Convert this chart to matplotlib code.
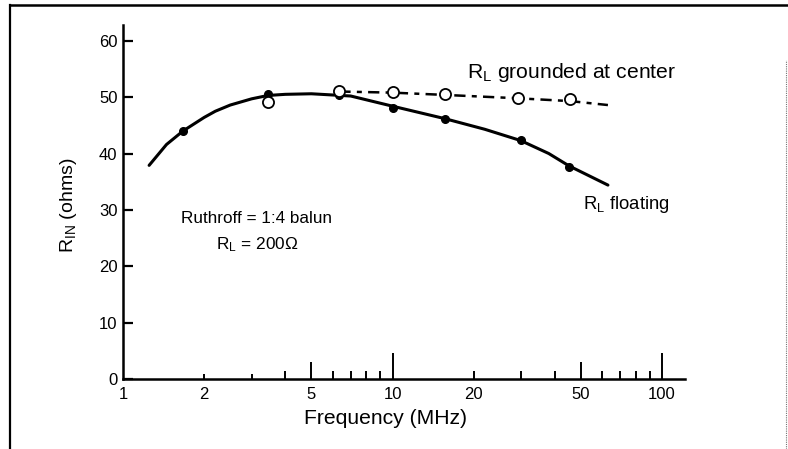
import matplotlib
matplotlib.use("Agg")
import matplotlib.pyplot as plt
from matplotlib.lines import Line2D
from matplotlib.ticker import FixedLocator, FuncFormatter, NullLocator

plt.rcParams["font.family"] = ["Liberation Sans", "DejaVu Sans"]
plt.rcParams["mathtext.fontset"] = "custom"
plt.rcParams["mathtext.rm"] = "Liberation Sans"
plt.rcParams["mathtext.default"] = "regular"

# R_L floating: measured points and the drawn curve through them
float_f = [1.67, 3.45, 6.35, 10, 15.6, 29.9, 45.2]
float_r = [44.0, 50.5, 50.4, 48.0, 46.1, 42.4, 37.6]
float_curve_f = [1.25, 1.45, 1.67, 2.0, 2.2, 2.5, 3.0, 3.45, 4.0, 5.0, 7.0, 10,
                 15.6, 22, 29.9, 38, 45.2, 63]
float_curve_r = [37.9, 41.6, 44.0, 46.4, 47.5, 48.6, 49.7, 50.3, 50.5, 50.6, 50.2, 48.4,
                 46.2, 44.3, 42.3, 40.0, 37.8, 34.4]

# R_L grounded at center: measured points and the dashed trend
ground_f = [3.45, 6.35, 10, 15.6, 29.2, 45.6]
ground_r = [49.1, 51.1, 50.9, 50.5, 49.8, 49.6]
ground_curve_f = [6.35, 10, 15.6, 29.2, 45.6, 63]
ground_curve_r = [51.0, 50.8, 50.4, 49.8, 49.3, 48.6]

x_ticks = [1, 2, 3, 4, 5, 6, 7, 8, 9, 10, 20, 30, 40, 50, 60, 70, 80, 90, 100]
x_labels = [1, 2, 5, 10, 20, 50, 100]
y_ticks = [0, 10, 20, 30, 40, 50, 60]

fig = plt.figure(figsize=(7.88, 4.49), dpi=100)
ax = fig.add_axes([123 / 788, 1 - 379 / 449, (685 - 123) / 788, (379 - 25) / 449])

ax.plot(float_curve_f, float_curve_r, color="black", lw=2.2, solid_capstyle="round",
        solid_joinstyle="round", zorder=3)
ax.plot(float_f, float_r, "o", color="black", ms=5.5, zorder=4)
ax.plot(ground_curve_f, ground_curve_r, color="black", lw=1.8,
        ls=(0, (4.5, 2.5, 2, 2.5)), zorder=2)
ax.plot(ground_f, ground_r, "o", mfc="white", mec="black", mew=1.3, ms=8, zorder=5)

ax.set_xscale("log")
ax.set_xlim(1, 121.7)
ax.set_ylim(0, 62.8)

for side in ("top", "right"):
    ax.spines[side].set_visible(False)
for side in ("left", "bottom"):
    ax.spines[side].set_linewidth(1.8)

ax.xaxis.set_major_locator(FixedLocator(x_ticks))
ax.xaxis.set_minor_locator(NullLocator())
ax.xaxis.set_major_formatter(FuncFormatter(
    lambda v, p: f"{int(round(v))}" if int(round(v)) in x_labels else ""))
ax.set_yticks(y_ticks)

ax.tick_params(axis="x", direction="in", width=1.4, labelsize=12, pad=6)
ax.tick_params(axis="y", direction="in", width=1.6, length=7.2, labelsize=12, pad=4)

# Tick heights on the log axis: tall at decades, medium at 5s, short elsewhere
tick_len_px = {1: 0, 2: 5, 3: 5, 5: 17, 10: 26, 50: 17, 100: 26}
for tick, loc in zip(ax.xaxis.get_major_ticks(len(x_ticks)), x_ticks):
    tick.tick1line.set_markersize(tick_len_px.get(loc, 8.5) * 0.72)

ax.set_xlabel("Frequency (MHz)", fontsize=15.2)
ax.xaxis.set_label_coords((385 - 123) / 562, -0.085)
ax.set_ylabel(r"$R_{IN}$ (ohms)", fontsize=14)
ax.yaxis.set_label_coords(-0.078, 0.49)

ax.text(18.9, 54.4, r"$R_L$ grounded at center", fontsize=15.2, va="center", ha="left")
ax.text(51, 30.9, r"$R_L$ floating", fontsize=13.3, va="center", ha="left")
ax.text(3.14, 28.5, "Ruthroff = 1:4 balun", fontsize=12.3, va="center", ha="center")
ax.text(3.14, 23.8, r"$R_L$ = 200Ω", fontsize=12.4, va="center", ha="center")

# Outer frame of the figure panel
fig.add_artist(Line2D([10 / 788, 10 / 788], [0, 1 - 5 / 449], color="black", lw=1.6))
fig.add_artist(Line2D([10 / 788, 1], [1 - 5 / 449, 1 - 5 / 449], color="black", lw=1.8))
fig.add_artist(Line2D([786 / 788, 786 / 788], [0, 1 - 60 / 449], color="0.45", lw=0.8, ls=(0, (1, 1))))

fig.savefig("out.png", dpi=100)
